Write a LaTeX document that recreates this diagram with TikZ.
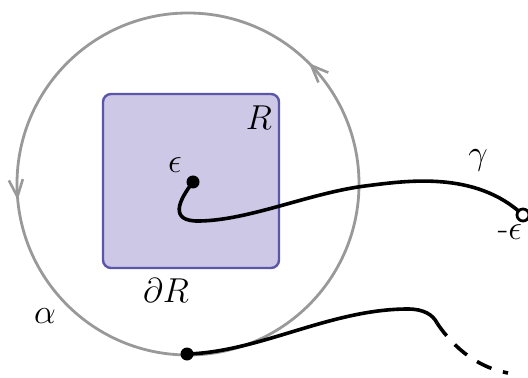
\documentclass[tikz,border=0pt]{standalone}
\usetikzlibrary{arrows.meta,decorations.markings}
\definecolor{boxfill}{HTML}{CCC8E6}
\definecolor{boxline}{HTML}{5A56AA}
\definecolor{circgray}{HTML}{999999}
\tikzset{
  curve/.style={line width=1.8pt, black},
  lbl/.style={font=\LARGE, inner sep=1pt},
}
\begin{document}
\begin{tikzpicture}[x=0.5pt,y=-0.5pt]
\useasboundingbox (0,0) rectangle (528,378);
% circle with arrows (counterclockwise on screen)
\draw[circgray, line width=1.4pt,
  postaction={decorate},
  decoration={markings,
    mark=at position 0.125 with {\arrow{Straight Barb[length=8.5pt,width=7pt,line width=1.3pt]}},
    mark=at position 0.515 with {\arrow{Straight Barb[length=8.5pt,width=7pt,line width=1.3pt]}}}]
  (359,184) arc[start angle=0, end angle=-360, radius=171] coordinate (cc);
% square
\node[draw=boxline, fill=boxfill, line width=1.2pt, rounded corners=4pt,
  minimum width=88pt, minimum height=87pt, inner sep=0pt] (R) at (191,181) {};
\node[lbl] (Rl) at (259,118) {$R$};
\node[lbl] (dR) at (166,290) {$\partial R$};
\node[lbl] (al) at (45,316) {$\alpha$};
% inner curve
\coordinate (p0) at (193,182);
\coordinate (pe) at (523,215);
\draw[curve] (p0) .. controls (179,200) and (168,222) .. (200,221)
  .. controls (250,220) and (310,193) .. (365,186)
  .. controls (405,181) and (475,170) .. (pe);
\fill (p0) circle[radius=6.5];
\draw[line width=1.4pt, fill=white] (pe) circle[radius=6];
\node[lbl] (eps) at (175,165) {$\epsilon$};
\node[lbl] (meps) at (510,232) {-$\epsilon$};
\node[lbl] (gam) at (478,160) {$\gamma$};
% bottom curve
\coordinate (q0) at (187,354);
\coordinate (q1) at (437,323);
\coordinate (q2) at (508,373);
\draw[curve] (q0) .. controls (260,352) and (330,309) .. (408,309)
  .. controls (424,309) and (433,315) .. (q1);
\draw[curve, dash pattern=on 8pt off 6pt] (q1) .. controls (455,350) and (480,368) .. (q2);
\fill (q0) circle[radius=6.5];
\end{tikzpicture}
\end{document}
